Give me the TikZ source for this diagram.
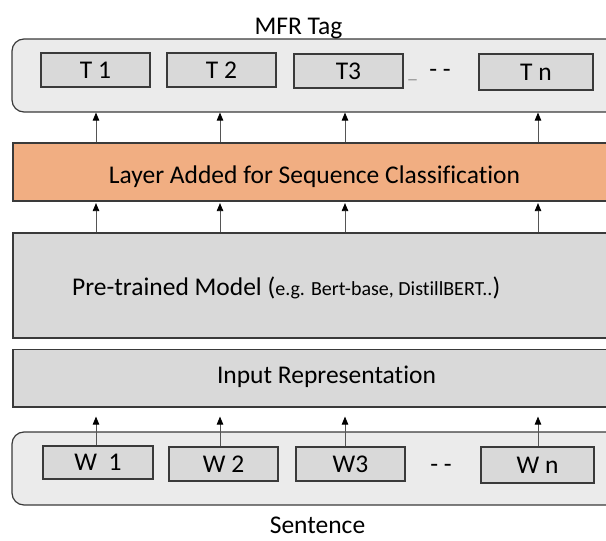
\documentclass[tikz,border=0pt]{standalone}
\usepackage{fontspec}
\setmainfont{Carlito}[Ligatures=NoCommon]
\usetikzlibrary{arrows.meta}
\definecolor{outerfill}{HTML}{EBEBEB}
\definecolor{innerfill}{HTML}{D9D9D9}
\definecolor{orangefill}{HTML}{F1AE82}
\definecolor{edgecol}{HTML}{3A3A3A}
\definecolor{arrowline}{HTML}{555555}
\definecolor{dashgray}{HTML}{808080}
\begin{document}
\begin{tikzpicture}[x=1pt,y=-1pt,
  outerbox/.style={draw=edgecol, line width=1.2pt, fill=outerfill, rounded corners=12pt, inner sep=0pt},
  tokbox/.style={draw=edgecol, line width=1.1pt, fill=innerfill, inner sep=0pt, font=\fontsize{25.5}{29}\selectfont},
  layerbox/.style={draw=edgecol, line width=1.2pt, inner sep=0pt, minimum width=607pt},
  lbl/.style={inner sep=0pt, font=\fontsize{25.5}{30}\selectfont},
  uparrow/.style={draw=arrowline, line width=0.8pt, -{Triangle[length=8pt,width=6.5pt,color=black]}},
]
\useasboundingbox (0,0) rectangle (606,541);
\clip (0,0) rectangle (606,541);
% column positions of the arrows
\coordinate (c1) at (96,0);
\coordinate (c2) at (220,0);
\coordinate (c3) at (345,0);
\coordinate (c4) at (538,0);
% top output box
\node[outerbox, minimum width=608pt, minimum height=73pt] (top) at (316,75.5) {};
\node[tokbox, minimum width=109pt, minimum height=34pt] (t1) at (95.5,70) {T 1};
\node[tokbox, minimum width=109pt, minimum height=34pt] (t2) at (221.5,70) {T 2};
\node[tokbox, minimum width=109pt, minimum height=34pt] (t3) at (348.5,71) {T3};
\node[tokbox, minimum width=114pt, minimum height=36pt] (tn) at (536,72) {T n};
\node[inner sep=0pt, text=dashgray, font=\fontsize{17}{20}\selectfont] (tus) at (412.5,80) {\_};
\node[lbl, anchor=base] (tdots) at (440,77) {- -};
\node[lbl, anchor=base] (mfr) at (298.5,34) {MFR Tag};
% classification layer
\node[layerbox, fill=orangefill, minimum height=58pt] (cls) at (316.5,172) {};
\node[lbl, anchor=base] (clstxt) at (314.5,183) {Layer Added for Sequence Classification};
% pre-trained model
\node[layerbox, fill=innerfill, minimum height=105pt] (pre) at (316.5,285.5) {};
\node[lbl, anchor=base west] (pretxt) at (72,295) {Pre-trained Model (\fontsize{20}{24}\selectfont e.g. Bert-base, DistillBERT..\fontsize{25.5}{30}\selectfont)};
% input representation
\node[layerbox, fill=innerfill, minimum height=57.5pt] (inp) at (316.5,378.25) {};
\node[lbl, anchor=base] (inptxt) at (326.5,383) {Input Representation};
% sentence box
\node[outerbox, minimum width=608pt, minimum height=73pt] (sent) at (316,468.5) {};
\node[tokbox, minimum width=110pt, minimum height=33pt] (w1) at (98,462.5) {W\ \ 1};
\node[tokbox, minimum width=109pt, minimum height=34pt] (w2) at (223.5,464) {W 2};
\node[tokbox, minimum width=109pt, minimum height=34pt] (w3) at (350.5,464) {W3};
\node[tokbox, minimum width=113pt, minimum height=36pt] (wn) at (537.5,465) {W n};
\node[lbl, anchor=base] (wdots) at (441,472) {- -};
\node[lbl, anchor=base] (senttxt) at (317.5,533) {Sentence};
% arrows: classification layer -> tags
\foreach \c in {c1,c2,c3,c4}{
  \draw[uparrow] (cls.north -| \c) -- (top.south -| \c);
  \draw[uparrow] (pre.north -| \c) -- ([yshift=-1.5pt]cls.south -| \c);
}
% arrows: words -> input representation
\coordinate (a1) at ([yshift=-9pt]inp.south -| c1);
\coordinate (a2) at ([yshift=-9pt]inp.south -| c2);
\coordinate (a3) at ([yshift=-9pt]inp.south -| c3);
\coordinate (a4) at ([yshift=-9pt]inp.south -| c4);
\draw[uparrow] (w1.north -| c1) -- (a1);
\draw[uparrow] (w2.north -| c2) -- (a2);
\draw[uparrow] (w3.north -| c3) -- (a3);
\draw[uparrow] (wn.north -| c4) -- (a4);
\end{tikzpicture}
\end{document}
